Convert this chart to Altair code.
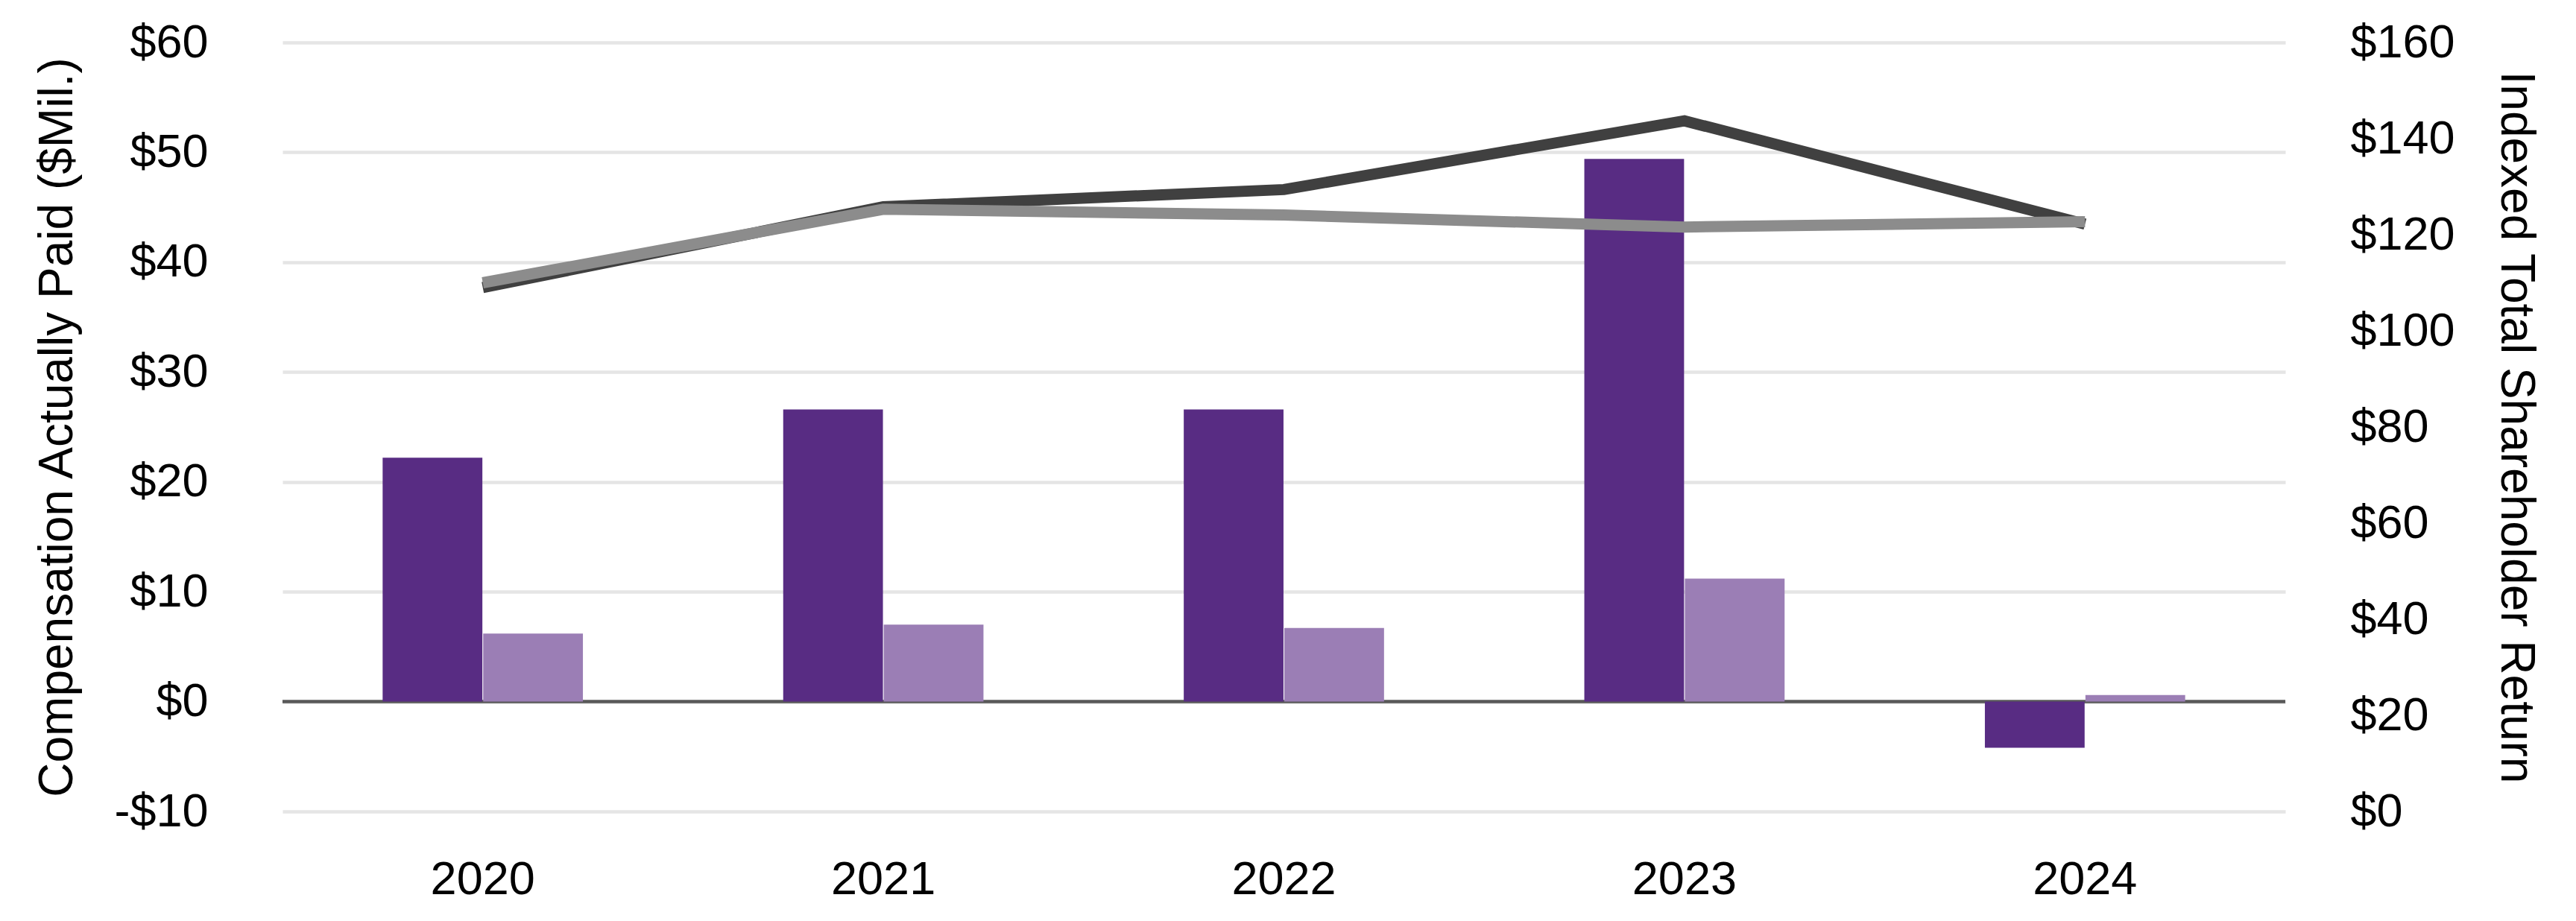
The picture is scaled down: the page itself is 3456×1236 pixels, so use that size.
import altair as alt
import pandas as pd

years = ["2020", "2021", "2022", "2023", "2024"]
cap_peo = [22.2, 26.6, 26.6, 49.4, -4.2]
cap_neo = [6.2, 7.0, 6.7, 11.2, 0.6]
tsr_company = [109.0, 125.8, 129.4, 143.7, 122.2]
tsr_peer = [110.0, 125.3, 124.1, 121.6, 122.7]
left_ticks = [-10, 0, 10, 20, 30, 40, 50, 60]
right_ticks = [0, 20, 40, 60, 80, 100, 120, 140, 160]
bar_series = ["PEO Compensation Actually Paid", "Average Non-PEO NEO Compensation Actually Paid"]

FONT = "Liberation Sans"
FS = 63
TFS = 64

bars_df = pd.DataFrame({
    "year": years * 2,
    "series": [bar_series[0]] * 5 + [bar_series[1]] * 5,
    "value": cap_peo + cap_neo,
})
company_df = pd.DataFrame({"year": years, "tsr": tsr_company})
peer_df = pd.DataFrame({"year": years, "tsr": tsr_peer})
zero_df = pd.DataFrame({"value": [0]})

x_enc = alt.X(
    "year:N",
    sort=years,
    scale=alt.Scale(paddingInner=0.5, paddingOuter=0.25),
    axis=alt.Axis(title=None, labelAngle=0, ticks=False, domain=False, grid=False,
                  labelPadding=60, labelFontSize=FS, labelFont=FONT, labelColor="#000000"),
)

left_scale = alt.Scale(domain=[-10, 60], nice=False, zero=False)
left_axis = alt.Axis(
    title="Compensation Actually Paid ($Mil.)",
    values=left_ticks,
    labelExpr="datum.value < 0 ? '-$' + abs(datum.value) : '$' + datum.value",
    grid=True, gridColor="#E5E5E5", gridWidth=4.5,
    ticks=False, domain=False,
    labelPadding=100, labelFontSize=FS, labelFont=FONT, labelColor="#000000",
    titleFontSize=TFS, titleFont=FONT, titleFontWeight="normal", titleColor="#000000",
    titlePadding=70,
)

rule = alt.Chart(zero_df).mark_rule(color="#595959", strokeWidth=4.5).encode(
    y=alt.Y("value:Q", scale=left_scale, axis=left_axis)
)

bars = alt.Chart(bars_df).mark_bar().encode(
    x=x_enc,
    xOffset=alt.XOffset("series:N", sort=bar_series, scale=alt.Scale(paddingInner=0.008)),
    y=alt.Y("value:Q", scale=left_scale, axis=left_axis),
    color=alt.Color("series:N", sort=bar_series,
                    scale=alt.Scale(domain=bar_series, range=["#582C83", "#9B7EB5"]),
                    legend=None),
)

right_scale = alt.Scale(domain=[0, 160], nice=False, zero=False)
right_axis = alt.Axis(
    title="Indexed Total Shareholder Return",
    orient="right",
    values=right_ticks,
    labelExpr="'$' + datum.value",
    grid=False, ticks=False, domain=False,
    labelPadding=87, labelFontSize=FS, labelFont=FONT, labelColor="#000000",
    titleFontSize=TFS, titleFont=FONT, titleFontWeight="normal", titleColor="#000000",
    titlePadding=76,
)

line_company = alt.Chart(company_df).mark_line(
    color="#404040", strokeWidth=15, strokeCap="butt", strokeJoin="miter"
).encode(
    x=x_enc,
    y=alt.Y("tsr:Q", scale=right_scale, axis=right_axis),
)
line_peer = alt.Chart(peer_df).mark_line(
    color="#8C8C8C", strokeWidth=15, strokeCap="butt", strokeJoin="miter"
).encode(
    x=x_enc,
    y=alt.Y("tsr:Q", scale=right_scale, axis=right_axis),
)

left_layer = alt.layer(rule, bars)
right_layer = alt.layer(line_company, line_peer)

chart = alt.layer(left_layer, right_layer).resolve_scale(
    y="independent", color="independent"
).properties(
    width=2687,
    height=1032,
    padding={"left": 371, "top": 49, "right": 380, "bottom": 130},
    autosize=alt.AutoSizeParams(type="none"),
).configure(font=FONT).configure_view(strokeWidth=0, stroke=None)

chart.save("out.html", embed_options={"renderer": "svg", "actions": False})
